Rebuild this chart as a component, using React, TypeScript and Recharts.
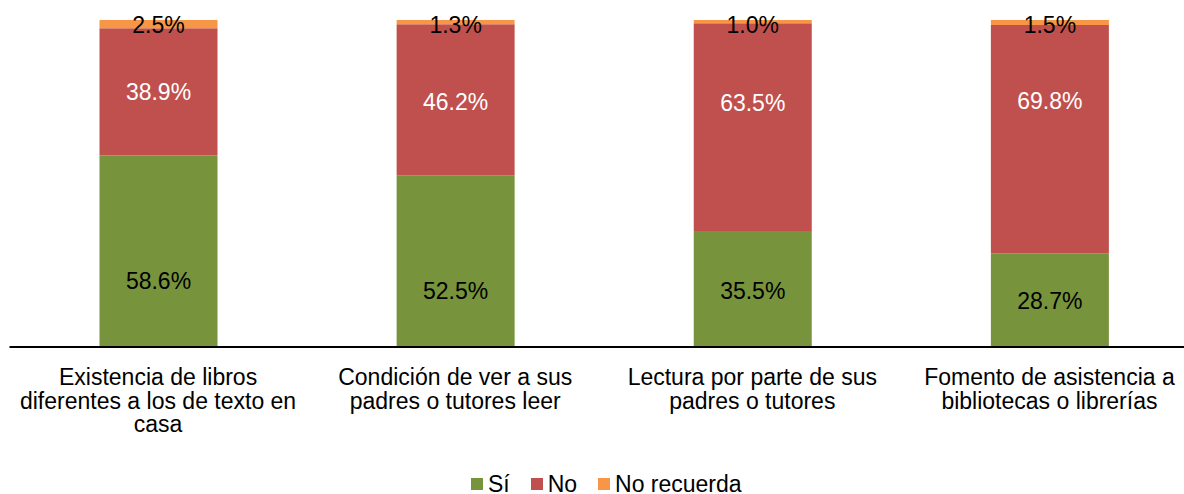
import { Bar, BarChart, LabelList, Legend, XAxis, YAxis } from "recharts";

const categoryLines: string[][] = [
  ["Existencia de libros", "diferentes a los de texto en", "casa"],
  ["Condición de ver a sus", "padres o tutores leer"],
  ["Lectura por parte de sus", "padres o tutores"],
  ["Fomento de asistencia a", "bibliotecas o librerías"],
];
const si = [58.6, 52.5, 35.5, 28.7];
const no = [38.9, 46.2, 63.5, 69.8];
const noRecuerda = [2.5, 1.3, 1.0, 1.5];

const FONT = '"Liberation Sans", Arial, sans-serif';

const series = [
  { key: "si", label: "Sí", color: "#77933C", text: "#000", shift: [30, 30, 2, 1] },
  { key: "no", label: "No", color: "#C0504D", text: "#fff", shift: [0, 2, -24, -38] },
  { key: "nr", label: "No recuerda", color: "#F79646", text: "#000", shift: [1, 2.5, 3, 2] },
];

const data = categoryLines.map((lines, i) => ({
  name: lines.join(" "),
  si: si[i],
  no: no[i],
  nr: noRecuerda[i],
}));

function makeLabel(color: string, shift: number[]) {
  return (props: any) => {
    const { x, y, width, height, value, index } = props;
    const cx = Number(x) + Number(width) / 2;
    const cy = Number(y) + Number(height) / 2 + (shift[index ?? 0] ?? 0);
    return (
      <text
        x={cx}
        y={cy}
        dy="0.36em"
        textAnchor="middle"
        fill={color}
        fontSize={23}
        fontFamily={FONT}
      >
        {`${Number(value).toFixed(1)}%`}
      </text>
    );
  };
}

function CategoryTick(props: any) {
  const { x, y, index } = props;
  const lines = categoryLines[index] ?? [];
  return (
    <text x={x} y={y} textAnchor="middle" fill="#000" fontSize={23} fontFamily={FONT}>
      {lines.map((l, i) => (
        <tspan key={i} x={x} y={y + 38 + i * 23.5}>
          {l}
        </tspan>
      ))}
    </text>
  );
}

function LegendContent() {
  return (
    <div
      style={{
        display: "flex",
        justifyContent: "center",
        paddingTop: 9,
        paddingLeft: 5,
        height: 30,
        boxSizing: "border-box",
        fontFamily: FONT,
        fontSize: 23,
        lineHeight: "24px",
        color: "#000",
      }}
    >
      {series.map((s, i) => (
        <div
          key={s.key}
          style={{ display: "flex", alignItems: "center", marginLeft: i === 0 ? 0 : 21 }}
        >
          <span style={{ width: 12, height: 12, background: s.color, marginRight: 5 }} />
          <span>{s.label}</span>
        </div>
      ))}
    </div>
  );
}

export default function App() {
  return (
    <div
      style={{
        position: "fixed",
        left: 0,
        top: 0,
        width: 1184,
        height: 494,
        overflow: "hidden",
        background: "#fff",
      }}
    >
      <BarChart
        width={1198}
        height={494}
        data={data}
        margin={{ top: 20, right: 0, left: 9.5, bottom: 0 }}
      >
        <YAxis hide domain={[0, 100]} type="number" />
        <XAxis
          dataKey="name"
          interval={0}
          height={117}
          tickLine={false}
          tickSize={0}
          tickMargin={0}
          axisLine={{ stroke: "#000", strokeWidth: 2 }}
          tick={<CategoryTick />}
        />
        <Legend verticalAlign="bottom" height={30} content={<LegendContent />} />
        {series.map((s) => (
          <Bar
            key={s.key}
            dataKey={s.key}
            name={s.label}
            stackId="a"
            fill={s.color}
            barSize={118}
            isAnimationActive={false}
          >
            <LabelList dataKey={s.key} content={makeLabel(s.text, s.shift)} />
          </Bar>
        ))}
      </BarChart>
    </div>
  );
}
